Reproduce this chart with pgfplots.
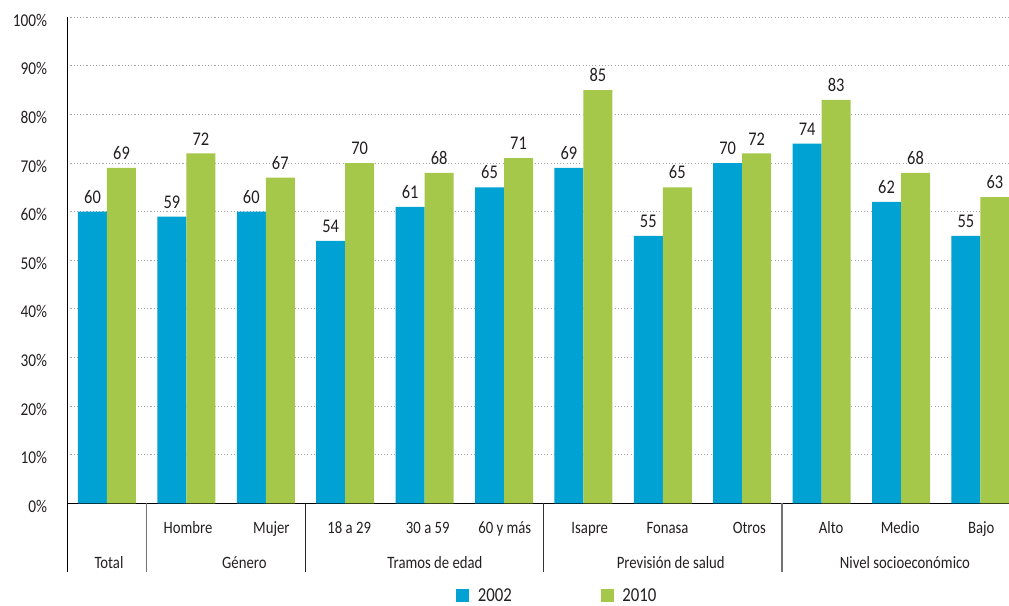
\documentclass[border=0pt]{standalone}
\usepackage{fontspec}
\setmainfont{Carlito}[FakeStretch=0.85]
\usepackage{pgfplots}
\usepackage{pgfplotstable}
\pgfplotsset{compat=1.18}
\definecolor{cblue}{RGB}{0,161,211}
\definecolor{cgreen}{RGB}{165,200,74}
\definecolor{txt}{RGB}{35,31,32}

\pgfplotstableread{
x a b
0 60 69
1 59 72
2 60 67
3 54 70
4 61 68
5 65 71
6 69 85
7 55 65
8 70 72
9 74 83
10 62 68
11 55 63
}\data

\pgfplotsset{sqlegend/.style={legend image code/.code={%
  \fill[##1,draw=none] (0pt,-4.3pt) rectangle (9.75pt,5.45pt);
  \path (16.2pt,0pt);}}}

\begin{document}
\begin{tikzpicture}
\begin{axis}[name=ax, scale only axis, width=714.6pt, height=364.5pt,
  xmin=-0.5, xmax=11.5, ymin=0, ymax=100,
  axis x line=bottom, axis y line=left,
  axis line style={line width=0.9pt, black, -},
  ybar=0pt, bar width=21.75pt,
  ytick={0,10,20,30,40,50,60,70,80,90,100},
  yticklabels={0\%,10\%,20\%,30\%,40\%,50\%,60\%,70\%,80\%,90\%,100\%},
  major tick length=0pt,
  ymajorgrids,
  major grid style={black!35, line width=0.8pt, dash pattern=on 0.8pt off 1.6pt},
  yticklabel style={font=\fontsize{13.5pt}{16pt}\selectfont, text=txt, anchor=east, inner sep=0pt, xshift=-15pt, yshift=-2.25pt},
  xtick={1.02,2.07,3.05,4.04,5.01,6.08,7.06,8.09,9.12,9.99,11.01},
  xticklabels={Hombre,Mujer,18 a 29,30 a 59,60 y más,Isapre,Fonasa,Otros,Alto,Medio,Bajo},
  xticklabel style={font=\fontsize{13pt}{15pt}\selectfont, text=txt, anchor=base, inner sep=0pt, yshift=-22.5pt},
  clip=false,
  /pgf/number format/assume math mode=true,
  nodes near coords,
  every node near coord/.append style={font=\fontsize{14.5pt}{17pt}\selectfont, text=txt, anchor=south, inner sep=0pt, yshift=6pt, /pgf/number format/assume math mode=true},
  legend columns=2,
  legend style={at={(axis cs:4.395,-19.1)}, anchor=west, draw=none, fill=none, inner sep=0pt,
    font=\fontsize{14.8pt}{17pt}\selectfont, text=txt,
    /tikz/every even column/.append style={column sep=66.75pt},
    nodes={inner sep=0pt}},
  sqlegend,
]
\addplot[fill=cblue, draw=none, sqlegend] table[x=x,y=a] {\data};
\addlegendentry{2002}
\addplot[fill=cgreen, draw=none, sqlegend] table[x=x,y=b] {\data};
\addlegendentry{2010}

\draw[black, line width=0.9pt] (axis cs:-0.5,0) -- (axis cs:-0.5,-14.07);
\draw[black!55, line width=0.9pt] (axis cs:0.5,0) -- (axis cs:0.5,-14.07);
\draw[black!85, line width=0.9pt] (axis cs:2.5,0) -- (axis cs:2.5,-14.07);
\draw[black!80, line width=0.9pt] (axis cs:5.5,0) -- (axis cs:5.5,-14.07);
\draw[black!55, line width=0.9pt] (axis cs:8.5,0) -- (axis cs:8.5,-14.07);

\begin{scope}[every node/.style={anchor=base, inner sep=0pt, font=\fontsize{13pt}{15pt}\selectfont, text=txt}]
\node at (axis cs:0.025,-13.37) {Total};
\node at (axis cs:1.73,-13.37) {Género};
\node at (axis cs:4.13,-13.37) {Tramos de edad};
\node at (axis cs:7.10,-13.37) {Previsión de salud};
\node at (axis cs:10.05,-13.37) {Nivel socioeconómico};
\end{scope}
\end{axis}
\pgfresetboundingbox
\path[use as bounding box] ([xshift=-50.475pt,yshift=-77.025pt]ax.south west) rectangle ([xshift=706.275pt,yshift=12.975pt]ax.north west);
\end{tikzpicture}
\end{document}
